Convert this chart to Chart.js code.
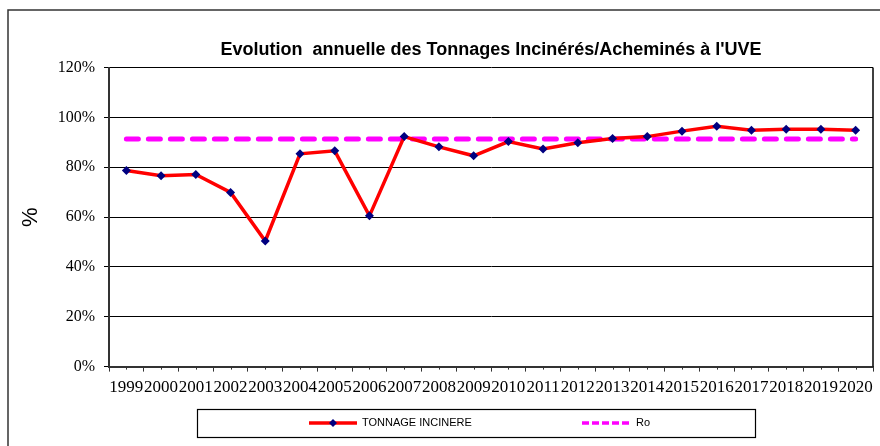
<!DOCTYPE html>
<html>
<head>
<meta charset="utf-8">
<script src="https://cdn.jsdelivr.net/npm/chart.js@4.4.0/dist/chart.umd.min.js"></script>
<style>
  html, body { margin: 0; padding: 0; background: #fff; }
  #wrap { width: 880px; height: 446px; position: relative; }
</style>
</head>
<body>
<div id="wrap"><canvas id="chart"></canvas></div>
<script>
var years = ['1999', '2000', '2001', '2002', '2003', '2004', '2005', '2006', '2007', '2008', '2009',
  '2010', '2011', '2012', '2013', '2014', '2015', '2016', '2017', '2018', '2019', '2020']
var tonnageIncinere = [78.7, 76.6, 77.1, 69.9, 50.4, 85.4, 86.6, 60.5, 92.3, 88.2, 84.6,
  90.3, 87.3, 89.8, 91.5, 92.3, 94.5, 96.5, 94.9, 95.3, 95.3, 94.9]
var ro = [91.3, 91.3, 91.3, 91.3, 91.3, 91.3, 91.3, 91.3, 91.3, 91.3, 91.3,
  91.3, 91.3, 91.3, 91.3, 91.3, 91.3, 91.3, 91.3, 91.3, 91.3, 91.3]
var yTicks = [0, 20, 40, 60, 80, 100, 120]

var serif = '"Liberation Serif", "Times New Roman", serif'
var sans = '"Liberation Sans", Arial, sans-serif'

// frame, plot border, minor ticks and the boxed legend
var decorations = {
  id: 'decorations',
  beforeDraw: function (chart) {
    var ctx = chart.ctx
    ctx.save()
    ctx.strokeStyle = '#333'
    ctx.lineWidth = 1.5
    ctx.beginPath()
    ctx.moveTo(8, 446)
    ctx.lineTo(8, 10)
    ctx.lineTo(880, 10)
    ctx.stroke()
    ctx.restore()
  },
  beforeDatasetsDraw: function (chart) {
    var ctx = chart.ctx
    var area = chart.chartArea
    var x = chart.scales.x
    ctx.save()
    ctx.strokeStyle = '#000'
    ctx.lineWidth = 1.5
    ctx.beginPath()
    ctx.moveTo(area.right, area.top)
    ctx.lineTo(area.right, area.bottom)
    ctx.stroke()
    ctx.strokeStyle = '#333'
    ctx.lineWidth = 1
    ctx.beginPath()
    for (var i = 0; i < years.length; i++) {
      var px = Math.round(x.getPixelForValue(i)) + 0.5
      ctx.moveTo(px, area.bottom)
      ctx.lineTo(px, area.bottom + 3)
    }
    ctx.stroke()
    ctx.restore()
  },
  afterDraw: function (chart) {
    var ctx = chart.ctx
    var ds = chart.data.datasets
    var cy = 423
    ctx.save()
    ctx.strokeStyle = '#000'
    ctx.lineWidth = 1.2
    ctx.strokeRect(197.5, 409.5, 558, 28)

    // first entry: line with diamond marker
    ctx.strokeStyle = ds[0].borderColor
    ctx.lineWidth = 3.5
    ctx.beginPath()
    ctx.moveTo(309, cy)
    ctx.lineTo(357, cy)
    ctx.stroke()
    ctx.fillStyle = ds[0].pointBackgroundColor
    ctx.beginPath()
    ctx.moveTo(333, cy - 4)
    ctx.lineTo(337, cy)
    ctx.lineTo(333, cy + 4)
    ctx.lineTo(329, cy)
    ctx.closePath()
    ctx.fill()

    // second entry: dashed line
    ctx.strokeStyle = ds[1].borderColor
    ctx.lineWidth = 3.5
    ctx.setLineDash([7, 3])
    ctx.beginPath()
    ctx.moveTo(582, cy)
    ctx.lineTo(632, cy)
    ctx.stroke()
    ctx.setLineDash([])

    ctx.fillStyle = '#000'
    ctx.font = '11px ' + sans
    ctx.textBaseline = 'middle'
    ctx.textAlign = 'left'
    ctx.fillText(ds[0].label, 362, cy)
    ctx.fillText(ds[1].label, 636, cy)
    ctx.restore()
  }
}

var canvas = document.getElementById('chart')
var chart = new Chart(canvas, {
  type: 'line',
  data: {
    labels: years,
    datasets: [
      {
        label: 'TONNAGE INCINERE',
        data: tonnageIncinere,
        borderColor: '#ff0000',
        borderWidth: 3.5,
        pointStyle: 'rectRot',
        pointRadius: 4.5,
        pointBackgroundColor: '#000080',
        pointBorderColor: '#000080',
        pointBorderWidth: 0,
        tension: 0
      },
      {
        label: 'Ro',
        data: ro,
        borderColor: '#ff00ff',
        borderWidth: 5,
        borderDash: [12, 10],
        borderCapStyle: 'round',
        pointRadius: 0,
        tension: 0
      }
    ]
  },
  options: {
    responsive: true,
    maintainAspectRatio: false,
    animation: false,
    devicePixelRatio: 1,
    layout: { padding: { left: 12, right: 7, top: 10, bottom: 42 } },
    plugins: {
      legend: { display: false },
      tooltip: { enabled: false },
      title: {
        display: true,
        fullSize: false,
        text: 'Evolution  annuelle des Tonnages Incinérés/Acheminés à l\'UVE',
        color: '#000',
        font: { family: sans, size: 18, weight: 'bold' },
        padding: { top: 29, bottom: 7 }
      }
    },
    scales: {
      x: {
        offset: true,
        grid: {
          offset: true,
          drawOnChartArea: false,
          drawTicks: true,
          tickLength: 5,
          color: '#333'
        },
        border: { display: true, color: '#333', width: 2 },
        ticks: {
          autoSkip: false,
          maxRotation: 0,
          minRotation: 0,
          padding: 6,
          color: '#000',
          font: { family: serif, size: 17 }
        }
      },
      y: {
        min: 0,
        max: 120,
        afterBuildTicks: function (scale) {
          scale.ticks = yTicks.map(function (v) { return { value: v } })
        },
        afterFit: function (scale) { scale.width = 97 },
        grid: { color: '#000', lineWidth: 1, tickLength: 5 },
        border: { display: true, color: '#333', width: 2 },
        ticks: {
          padding: 9,
          color: '#000',
          font: { family: serif, size: 16 },
          callback: function (v) { return v + '%' }
        },
        title: {
          display: true,
          text: '%',
          color: '#000',
          font: { family: sans, size: 22 },
          padding: { top: 6, bottom: 0 }
        }
      }
    }
  },
  plugins: [decorations]
})
</script>
</body>
</html>
